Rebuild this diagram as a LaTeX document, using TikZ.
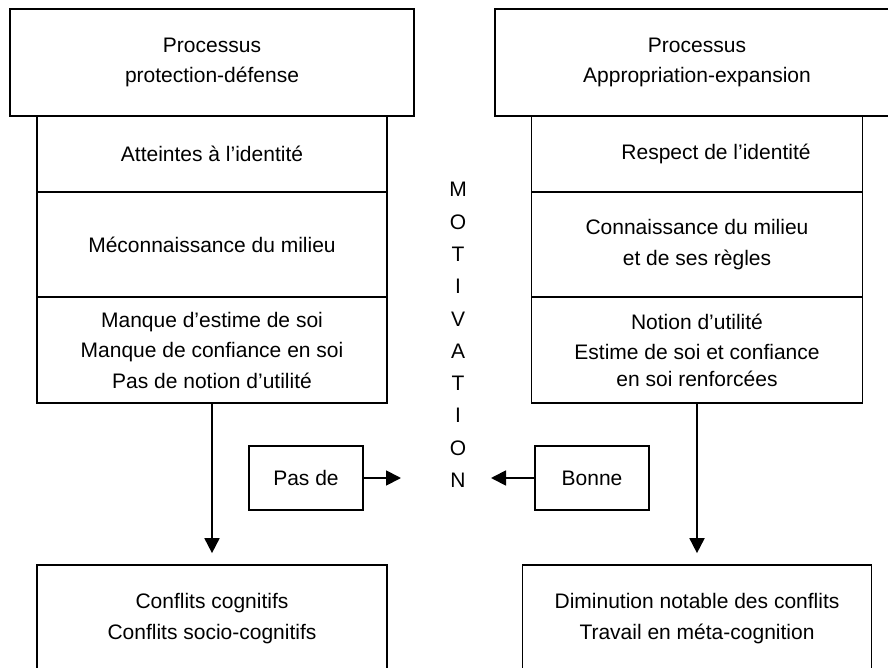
\documentclass[tikz,border=0pt]{standalone}
\usepackage{fontspec}
\setmainfont{Liberation Sans}
\usetikzlibrary{arrows.meta}
\begin{document}
\begin{tikzpicture}[x=1pt,y=-1pt,
  box/.style={draw, line width=1.7pt, rectangle, inner sep=0pt, align=center, font=\fontsize{21}{30.5}\selectfont},
  txt/.style={inner sep=0pt, align=center, font=\fontsize{21}{30.5}\selectfont},
  arr/.style={line width=1.8pt, -{Triangle[length=15pt,width=15pt]}}]
\clip (0,0) rectangle (888,668);
% left column
\node[box, minimum width=404pt, minimum height=107pt] (tl) at (212,62.5) {Processus\\protection-défense};
\node[box, minimum width=350pt, minimum height=76pt] (l1) at (212,154) {Atteintes à l’identité};
\node[box, minimum width=350pt, minimum height=105pt] (l2) at (212,244.5) {Méconnaissance du milieu};
\node[box, minimum width=350pt, minimum height=106pt] (l3) at (212,350) {Manque d’estime de soi\\Manque de confiance en soi\\Pas de notion d’utilité};
\node[box, minimum width=350pt, minimum height=107pt] (bl) at (212,618.5) {Conflits cognitifs\\Conflits socio-cognitifs};
% right column
\node[box, minimum width=404pt, minimum height=107pt] (tr) at (697,62.5) {Processus\\Appropriation-expansion};
\node[box, minimum width=331pt, minimum height=76pt] (r1) at (697,154) {};
\node[txt] (r1t) at (716,154) {Respect de l’identité};
\node[box, minimum width=331pt, minimum height=105pt] (r2) at (697,244.5) {Connaissance du milieu\\et de ses règles};
\node[box, minimum width=331pt, minimum height=106pt] (r3) at (697,350) {Notion d’utilité\\Estime de soi et confiance\\[-4pt]en soi renforcées};
\node[box, minimum width=349pt, minimum height=107pt] (br) at (697,618.5) {Diminution notable des conflits\\Travail en méta-cognition};
% middle
\node[inner sep=0pt, align=center, font=\fontsize{21}{32.3}\selectfont] (mot) at (458,335) {M\\O\\T\\I\\V\\A\\T\\I\\O\\N};
\node[box, minimum width=114pt, minimum height=64pt] (pas) at (306,478) {Pas de};
\node[box, minimum width=114pt, minimum height=64pt] (bon) at (592,478) {Bonne};
\coordinate (pasend) at (401,478);
\coordinate (bonend) at (491,478);
% arrows
\draw[arr, shorten >=11pt] (l3.south) -- (bl.north);
\draw[arr, shorten >=11pt] (r3.south) -- (br.north);
\draw[arr] (pas.east) -- (pasend);
\draw[arr] (bon.west) -- (bonend);
\end{tikzpicture}
\end{document}
